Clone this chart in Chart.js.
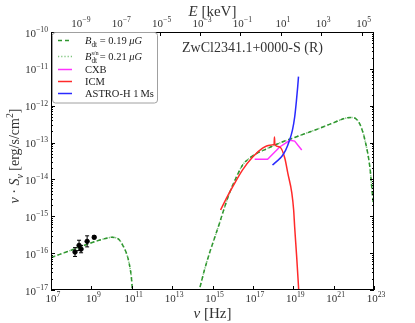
<!DOCTYPE html>
<html>
<head>
<meta charset="utf-8">
<script src="https://cdn.jsdelivr.net/npm/chart.js@4.4.1/dist/chart.umd.min.js"></script>
<style>
  html, body { margin: 0; padding: 0; background: #fff; }
</style>
</head>
<body>
<canvas id="sed" width="415" height="323"></canvas>
<script>
// tick exponents
const nuTickExp = [7, 9, 11, 13, 15, 17, 19, 21, 23];
const sTickExp = [-10, -11, -12, -13, -14, -15, -16, -17];
const eTickExp = [-9, -7, -5, -3, -1, 1, 3, 5];
const KEV_HZ = 2.418e17;

// radio data points (log10 nu, log10 S, error in dex)
const obsLogNu = [8.19, 8.39, 8.49, 8.79, 9.14];
const obsLogS = [-15.97, -15.79, -15.89, -15.68, -15.57];
const obsErr = [0.12, 0.14, 0.10, 0.15, 0.04];

// model, B_dt = 0.19 uG : synchrotron part
const synLogNu = [7, 7.5, 8, 8.5, 9, 9.5, 9.8, 10.0, 10.2, 10.4, 10.55, 10.7, 10.82, 10.92, 10.98, 11.03];
const synLogS = [-16.12, -16.02, -15.92, -15.82, -15.72, -15.63, -15.59, -15.57, -15.58, -15.65, -15.78, -15.95, -16.15, -16.42, -16.65, -17.0];

// model : inverse Compton part
const icLogNu = [14.3, 14.6, 14.85, 15.1, 15.35, 15.6, 15.84, 16.19, 16.49, 16.84, 17.24, 17.68, 18.33, 18.98, 19.67, 20.32, 20.96, 21.66, 21.96, 22.3, 22.55, 22.8, 22.95, 23.0];
const icLogS = [-17.1, -16.46, -16.0, -15.59, -15.18, -14.75, -14.37, -13.93, -13.61, -13.42, -13.28, -13.17, -13.01, -12.88, -12.74, -12.61, -12.47, -12.33, -12.32, -12.5, -12.93, -13.69, -14.56, -14.75];

// CXB
const cxbLogNu = [17.09, 17.73, 18.33, 18.83, 19.07, 19.42];
const cxbLogS = [-13.45, -13.45, -13.12, -12.94, -12.96, -13.20];

// ICM
const icmLogNu = [15.40, 15.70, 15.99, 16.49, 16.99, 17.48, 17.83, 18.05, 18.07, 18.09, 18.33, 18.58, 18.73, 18.93, 19.02, 19.07, 19.17, 19.27];
const icmLogS = [-14.83, -14.50, -14.21, -13.74, -13.39, -13.15, -13.07, -13.05, -12.85, -13.06, -13.12, -13.42, -13.83, -14.37, -14.83, -15.29, -16.10, -17.0];

// ASTRO-H 1 Ms sensitivity
const astroLogNu = [17.97, 18.18, 18.43, 18.63, 18.79, 18.96, 19.07, 19.16, 19.22, 19.26];
const astroLogS = [-13.61, -13.51, -13.38, -13.20, -12.98, -12.66, -12.31, -11.85, -11.49, -11.21];

const pts = (lx, ly) => lx.map((v, i) => ({ x: Math.pow(10, v), y: Math.pow(10, ly[i]) }));

const FONT = '"Liberation Serif", "DejaVu Serif", serif';
const fnt = (p, size) => (p.i ? 'italic ' : '') + (size * (p.s || 1)) + 'px ' + FONT;

// draw text made of parts (italic / sub / sup), y is baseline
function rich(ctx, parts, x, y, size, align) {
  let total = 0;
  const ws = parts.map(p => {
    ctx.font = fnt(p, size);
    const w = ctx.measureText(p.t).width;
    if (p.adv !== false) total += w;
    return w;
  });
  let cx = align === 'center' ? x - total / 2 : align === 'right' ? x - total : x;
  ctx.textAlign = 'left';
  ctx.textBaseline = 'alphabetic';
  parts.forEach((p, i) => {
    ctx.font = fnt(p, size);
    ctx.fillText(p.t, cx, y + (p.dy || 0) * size);
    if (p.adv !== false) cx += ws[i];
  });
}

function powLabel(ctx, exp, x, y, align) {
  rich(ctx, [{ t: '10' }, { t: String(exp).replace('-', '\u2212'), s: 0.7, dy: -0.42 }], x, y, 11, align);
}

const DASH = [4, 3];
const DOT = [1.2, 2];
const legendItems = [
  { color: '#2f962f', dash: DASH, parts: [{ t: 'B', i: true }, { t: 'dt', s: 0.7, dy: 0.25 }, { t: ' = 0.19 ' }, { t: '\u03bcG', i: true }] },
  { color: '#7cc47c', dash: DOT, parts: [{ t: 'B', i: true }, { t: 's/n', s: 0.6, dy: -0.45, adv: false }, { t: 'dt', s: 0.7, dy: 0.25 }, { t: ' = 0.21 ' }, { t: '\u03bcG', i: true }] },
  { color: '#ff33ff', dash: [], parts: [{ t: 'CXB' }] },
  { color: '#ff2a2a', dash: [], parts: [{ t: 'ICM' }] },
  { color: '#2a2aff', dash: [], parts: [{ t: 'ASTRO-H 1\u2009Ms' }] }
];

const decor = {
  id: 'decor',
  afterDatasetsDraw(chart) {
    // error bars on the radio points
    const { ctx, scales: { x, y } } = chart;
    ctx.save();
    ctx.strokeStyle = '#000';
    ctx.lineWidth = 1;
    obsLogNu.forEach((lx, i) => {
      const px = x.getPixelForValue(Math.pow(10, lx));
      const y1 = y.getPixelForValue(Math.pow(10, obsLogS[i] - obsErr[i]));
      const y2 = y.getPixelForValue(Math.pow(10, obsLogS[i] + obsErr[i]));
      ctx.beginPath();
      ctx.moveTo(px, y1); ctx.lineTo(px, y2);
      ctx.moveTo(px - 2, y1); ctx.lineTo(px + 2, y1);
      ctx.moveTo(px - 2, y2); ctx.lineTo(px + 2, y2);
      ctx.stroke();
    });
    ctx.restore();
  },
  afterDraw(chart) {
    const { ctx, chartArea: a, scales: { x, x2, y } } = chart;
    ctx.save();
    // frame
    ctx.strokeStyle = '#000';
    ctx.lineWidth = 1;
    ctx.strokeRect(a.left + 0.5, a.top + 0.5, a.right - a.left - 1, a.bottom - a.top - 1);

    // ticks
    ctx.beginPath();
    for (let e = -17; e <= -10; e++) {
      const py = Math.round(y.getPixelForValue(Math.pow(10, e))) + 0.5;
      ctx.moveTo(a.left, py); ctx.lineTo(a.left + 4, py);
      ctx.moveTo(a.right, py); ctx.lineTo(a.right - 4, py);
      if (e < -10) {
        for (let m = 2; m <= 9; m++) {
          const my = Math.round(y.getPixelForValue(m * Math.pow(10, e))) + 0.5;
          ctx.moveTo(a.left, my); ctx.lineTo(a.left + 2, my);
          ctx.moveTo(a.right, my); ctx.lineTo(a.right - 2, my);
        }
      }
    }
    nuTickExp.forEach(e => {
      const px = Math.round(x.getPixelForValue(Math.pow(10, e))) + 0.5;
      ctx.moveTo(px, a.bottom); ctx.lineTo(px, a.bottom - 4);
    });
    eTickExp.forEach(e => {
      const px = Math.round(x2.getPixelForValue(Math.pow(10, e))) + 0.5;
      ctx.moveTo(px, a.top); ctx.lineTo(px, a.top + 4);
    });
    ctx.stroke();

    // tick labels
    ctx.fillStyle = '#333';
    sTickExp.forEach(e => powLabel(ctx, e, a.left - 3, y.getPixelForValue(Math.pow(10, e)) + 4.5, 'right'));
    nuTickExp.forEach(e => powLabel(ctx, e, x.getPixelForValue(Math.pow(10, e)) + 2, a.bottom + 11.5, 'center'));
    eTickExp.forEach(e => powLabel(ctx, e, x2.getPixelForValue(Math.pow(10, e)) + 2, a.top - 5.5, 'center'));

    // axis titles
    const cx = (a.left + a.right) / 2;
    rich(ctx, [{ t: '\u03bd', i: true }, { t: ' [Hz]' }], cx, 318, 15, 'center');
    rich(ctx, [{ t: 'E', i: true }, { t: ' [keV]' }], cx, 16, 15, 'center');
    ctx.save();
    ctx.translate(19, 156);
    ctx.rotate(-Math.PI / 2);
    rich(ctx, [{ t: '\u03bd', i: true }, { t: ' \u00b7 ' }, { t: 'S', i: true }, { t: '\u03bd', i: true, s: 0.7, dy: 0.25 },
      { t: ' [erg/s/cm' }, { t: '2', s: 0.7, dy: -0.42 }, { t: ']' }], 0, 0, 14, 'center');
    ctx.restore();

    // cluster name
    rich(ctx, [{ t: 'ZwCl2341.1+0000-S (R)' }], 182, 52, 14, 'left');

    // legend
    ctx.fillStyle = '#fff';
    ctx.strokeStyle = '#a0a0a0';
    ctx.beginPath();
    ctx.roundRect(a.left + 1.5, a.top + 0.5, 105, 70.5, 3);
    ctx.fill();
    ctx.stroke();
    const rows = [40.5, 56.5, 69.5, 81.5, 93.5];
    legendItems.forEach((it, i) => {
      ctx.strokeStyle = it.color;
      ctx.lineWidth = 1.5;
      ctx.setLineDash(it.dash);
      ctx.beginPath();
      ctx.moveTo(58, rows[i]); ctx.lineTo(72, rows[i]);
      ctx.stroke();
      ctx.setLineDash([]);
      ctx.fillStyle = '#222';
      rich(ctx, it.parts, 85, rows[i] + 3.5, 10.5, 'left');
    });
    ctx.restore();
  }
};

const lineDs = (label, data, color, extra) => Object.assign({
  label, data, borderColor: color, backgroundColor: color, borderWidth: 1.5,
  pointRadius: 0, fill: false, cubicInterpolationMode: 'monotone', showLine: true
}, extra || {});

new Chart(document.getElementById('sed'), {
  type: 'scatter',
  data: {
    datasets: [
      { label: 'data', data: pts(obsLogNu, obsLogS), pointRadius: 2.2, pointStyle: 'circle',
        backgroundColor: '#000', borderColor: '#000', showLine: false },
      lineDs('ASTRO-H 1 Ms', pts(astroLogNu, astroLogS), '#2a2aff'),
      lineDs('ICM', pts(icmLogNu, icmLogS), '#ff2a2a'),
      lineDs('CXB', pts(cxbLogNu, cxbLogS), '#ff33ff', { cubicInterpolationMode: 'default', tension: 0 }),
      lineDs('Bdt syn', pts(synLogNu, synLogS), '#2f962f', { borderDash: DASH }),
      lineDs('Bdt ic', pts(icLogNu, icLogS), '#2f962f', { borderDash: DASH }),
      lineDs('Bdt s/n syn', pts(synLogNu, synLogS), '#7cc47c', { borderDash: DOT, borderDashOffset: -3.5 }),
      lineDs('Bdt s/n ic', pts(icLogNu, icLogS), '#7cc47c', { borderDash: DOT, borderDashOffset: -3.5 })
    ]
  },
  options: {
    responsive: false,
    animation: false,
    layout: { padding: { left: 0, right: 41, top: 0, bottom: 0 } },
    plugins: { legend: { display: false }, tooltip: { enabled: false } },
    scales: {
      x: {
        type: 'logarithmic', position: 'bottom', min: 1e7, max: 1e23,
        ticks: { display: false }, grid: { display: false }, border: { display: false },
        afterFit: s => { s.height = 33; }
      },
      x2: {
        type: 'logarithmic', position: 'top', min: 1e7 / KEV_HZ, max: 1e23 / KEV_HZ,
        ticks: { display: false }, grid: { display: false }, border: { display: false },
        afterFit: s => { s.height = 32; }
      },
      y: {
        type: 'logarithmic', position: 'left', min: 1e-17, max: 1e-10,
        ticks: { display: false }, grid: { display: false }, border: { display: false },
        afterFit: s => { s.width = 51; }
      }
    }
  },
  plugins: [decor]
});
</script>
</body>
</html>
